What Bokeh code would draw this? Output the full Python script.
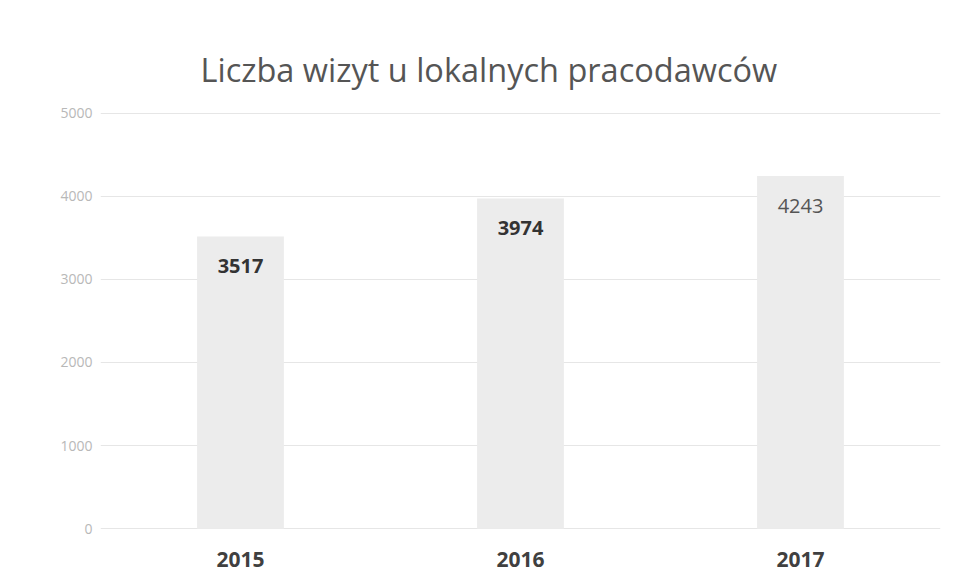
from bokeh.plotting import figure
from bokeh.models import ColumnDataSource, Range1d, FactorRange
from bokeh.core.properties import value
from bokeh.embed import file_html
from bokeh.resources import INLINE

years = ["2015", "2016", "2017"]
visits = [3517, 3974, 4243]
label_styles = ["bold", "bold", "normal"]
label_colors = ["#333333", "#333333", "#555555"]
y_ticks = [0, 1000, 2000, 3000, 4000, 5000]
title_text = "Liczba wizyt u lokalnych pracodawców"

src = ColumnDataSource(dict(
    year=years,
    visits=visits,
    label=[str(v) for v in visits],
    style=label_styles,
    color=label_colors,
))

p = figure(
    width=943, height=574,
    x_range=FactorRange(*years, range_padding=0),
    y_range=Range1d(-10, 5020),
    output_backend="svg", toolbar_location=None,
    min_border_left=100, min_border_right=3,
    min_border_top=111, min_border_bottom=45,
)

p.vbar(x="year", top="visits", width=0.31, source=src,
       fill_color="#ececec", line_color=None)

p.text(x="year", y="visits", text="label", source=src,
       text_font=value("Open Sans"), text_font_size="20px",
       text_font_style="style", text_color="color",
       text_align="center", text_baseline="middle", y_offset=30)

p.title.text = title_text
p.title.align = "left"
p.title.text_font = "Open Sans"
p.title.text_font_size = "32.5px"
p.title.text_font_style = "normal"
p.title.text_color = "#555555"
p.title.offset = 100
p.title.standoff = 40

p.yaxis.ticker = y_ticks
p.yaxis.axis_line_color = None
p.yaxis.major_tick_line_color = None
p.yaxis.minor_tick_line_color = None
p.yaxis.major_tick_out = 0
p.yaxis.major_tick_in = 0
p.yaxis.major_label_text_color = "#b8b8b8"
p.yaxis.major_label_text_font = "Open Sans"
p.yaxis.major_label_text_font_size = "14px"
p.yaxis.major_label_standoff = 8

p.xaxis.axis_line_color = None
p.xaxis.major_tick_line_color = None
p.xaxis.major_tick_out = 0
p.xaxis.major_tick_in = 0
p.xaxis.major_label_text_color = "#404040"
p.xaxis.major_label_text_font = "Open Sans"
p.xaxis.major_label_text_font_size = "21px"
p.xaxis.major_label_text_font_style = "bold"
p.xaxis.major_label_standoff = 22

p.xgrid.grid_line_color = None
p.ygrid.grid_line_color = "#e6e6e6"
p.ygrid.grid_line_width = 1
p.outline_line_color = None
p.background_fill_color = "white"
p.border_fill_color = "white"

open("out.html", "w").write(file_html(p, INLINE))
